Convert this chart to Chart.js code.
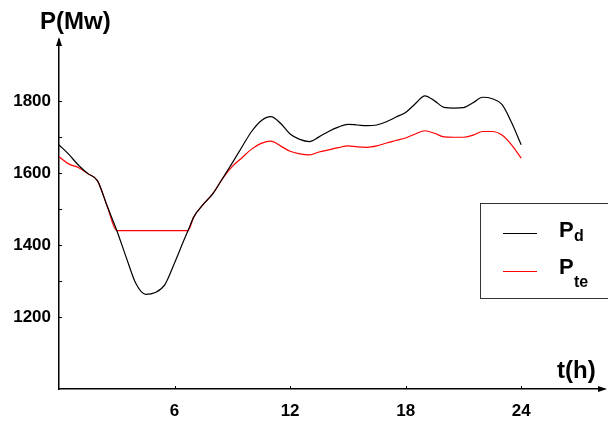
<!DOCTYPE html>
<html>
<head>
<meta charset="utf-8">
<script src="https://cdn.jsdelivr.net/npm/chart.js@4.4.1/dist/chart.umd.min.js"></script>
<style>
  html, body { margin: 0; padding: 0; background: #fff; }
  #wrap { width: 608px; height: 421px; position: relative; }
</style>
</head>
<body>
<div id="wrap"><canvas id="chart"></canvas></div>
<script>
/* ------------------- DATA ------------------- */
const hours = [0, 0.5, 1, 1.5, 2, 2.5, 3, 3.5, 4, 4.5, 5, 5.5, 6, 6.5, 6.7, 7, 7.5, 8, 8.5, 9,
  9.5, 10, 10.5, 11, 11.5, 12, 12.5, 13, 13.5, 14, 14.5, 15, 15.5, 16, 16.5, 17, 17.5, 18, 18.5, 19,
  19.5, 20, 20.5, 21, 21.5, 22, 22.5, 23, 23.5, 24];

// demand P_d
const pd = [1678, 1652, 1622, 1598, 1578, 1508, 1440, 1364, 1292, 1263, 1268, 1290, 1350, 1415, 1440, 1478, 1513, 1543, 1585, 1628,
  1672, 1715, 1745, 1756, 1738, 1708, 1693, 1687, 1700, 1715, 1727, 1735, 1733, 1731, 1733, 1742, 1755, 1768, 1792, 1814,
  1800, 1782, 1780, 1781, 1795, 1810, 1806, 1790, 1740, 1678];

// P_te
const pte = [1645, 1625, 1615, 1598, 1578, 1508, 1440, 1440, 1440, 1440, 1440, 1440, 1440, 1440, 1440, 1478, 1513, 1543, 1585, 1618,
  1642, 1666, 1682, 1688, 1675, 1660, 1653, 1650, 1658, 1664, 1670, 1675, 1672, 1671, 1675, 1683, 1690, 1697, 1708, 1717,
  1710, 1700, 1699, 1699, 1705, 1715, 1715, 1705, 1678, 1641];

const xTicks = [6, 12, 18, 24];
const yLabels = [1200, 1400, 1600, 1800];
const yMinor = [1200, 1300, 1400, 1500, 1600, 1700, 1800];

const FONT = '"Liberation Sans", Arial, sans-serif';

/* ------------------- decorations: arrows, titles, legend ------------------- */
const decor = {
  id: 'decor',
  afterDraw(chart) {
    const { ctx, chartArea: a, scales: { x, y } } = chart;
    ctx.save();
    ctx.fillStyle = '#000';
    ctx.strokeStyle = '#000';
    ctx.lineWidth = 1;

    // little inward tick marks
    yMinor.forEach(v => {
      const py = Math.round(y.getPixelForValue(v)) + 0.5;
      ctx.beginPath(); ctx.moveTo(a.left, py); ctx.lineTo(a.left + 3, py); ctx.stroke();
    });
    xTicks.forEach(v => {
      const px = Math.round(x.getPixelForValue(v)) + 0.5;
      ctx.beginPath(); ctx.moveTo(px, a.bottom); ctx.lineTo(px, a.bottom - 3); ctx.stroke();
    });

    // arrow heads
    ctx.beginPath();
    ctx.moveTo(a.left, a.top - 3);
    ctx.lineTo(a.left - 3, a.top + 6);
    ctx.lineTo(a.left + 3, a.top + 6);
    ctx.closePath(); ctx.fill();
    ctx.beginPath();
    ctx.moveTo(a.right + 3, a.bottom);
    ctx.lineTo(a.right - 6, a.bottom - 3);
    ctx.lineTo(a.right - 6, a.bottom + 3);
    ctx.closePath(); ctx.fill();

    // axis titles
    ctx.font = 'bold 24px ' + FONT;
    ctx.textBaseline = 'alphabetic';
    ctx.textAlign = 'left';
    ctx.fillText('P(Mw)', 40, 29);
    ctx.fillText('t(h)', 557, 378);

    // legend box
    ctx.strokeStyle = '#333';
    ctx.strokeRect(480.5, 203.5, 140, 95);
    ctx.lineWidth = 1;
    ctx.strokeStyle = '#000';
    ctx.beginPath(); ctx.moveTo(503, 233.5); ctx.lineTo(537, 233.5); ctx.stroke();
    ctx.strokeStyle = '#ff0000';
    ctx.beginPath(); ctx.moveTo(503, 271.5); ctx.lineTo(537, 271.5); ctx.stroke();

    ctx.fillStyle = '#000';
    ctx.font = 'bold 22px ' + FONT;
    ctx.fillText('P', 559, 237);
    ctx.fillText('P', 559, 274);
    ctx.font = 'bold 16px ' + FONT;
    ctx.fillText('d', 574, 241);
    ctx.fillText('te', 574, 287);
    ctx.restore();
  }
};

/* ------------------- chart ------------------- */
const ctx = document.getElementById('chart').getContext('2d');
new Chart(ctx, {
  type: 'line',
  data: {
    datasets: [
      {
        label: 'Pd',
        data: hours.map((h, i) => ({ x: h, y: pd[i] })),
        borderColor: '#000',
        borderWidth: 1.2,
        pointRadius: 0,
        cubicInterpolationMode: 'monotone'
      },
      {
        label: 'Pte',
        data: hours.map((h, i) => ({ x: h, y: pte[i] })),
        borderColor: '#ff0000',
        borderWidth: 1.2,
        pointRadius: 0,
        cubicInterpolationMode: 'monotone'
      }
    ]
  },
  options: {
    responsive: true,
    maintainAspectRatio: false,
    animation: false,
    layout: { padding: { top: 40, right: 4, left: 0, bottom: 0 } },
    plugins: { legend: { display: false }, tooltip: { enabled: false } },
    scales: {
      x: {
        type: 'linear',
        min: 0,
        max: 28.3,
        afterFit: s => { s.height = 32; },
        afterBuildTicks: s => { s.ticks = xTicks.map(v => ({ value: v })); },
        grid: { display: false, drawTicks: false },
        border: { display: true, color: '#000', width: 1.5 },
        ticks: {
          padding: 12,
          color: '#000',
          maxRotation: 0,
          autoSkip: false,
          callback: v => String(v),
          font: { family: FONT, size: 17, weight: 'bold' }
        }
      },
      y: {
        min: 1000,
        max: 1969,
        afterFit: s => { s.width = 59; },
        afterBuildTicks: s => { s.ticks = yLabels.map(v => ({ value: v })); },
        grid: { display: false, drawTicks: false },
        border: { display: true, color: '#000', width: 1.5 },
        ticks: {
          padding: 8,
          color: '#000',
          autoSkip: false,
          callback: v => String(v),
          font: { family: FONT, size: 17, weight: 'bold' }
        }
      }
    }
  },
  plugins: [decor]
});
</script>
</body>
</html>
